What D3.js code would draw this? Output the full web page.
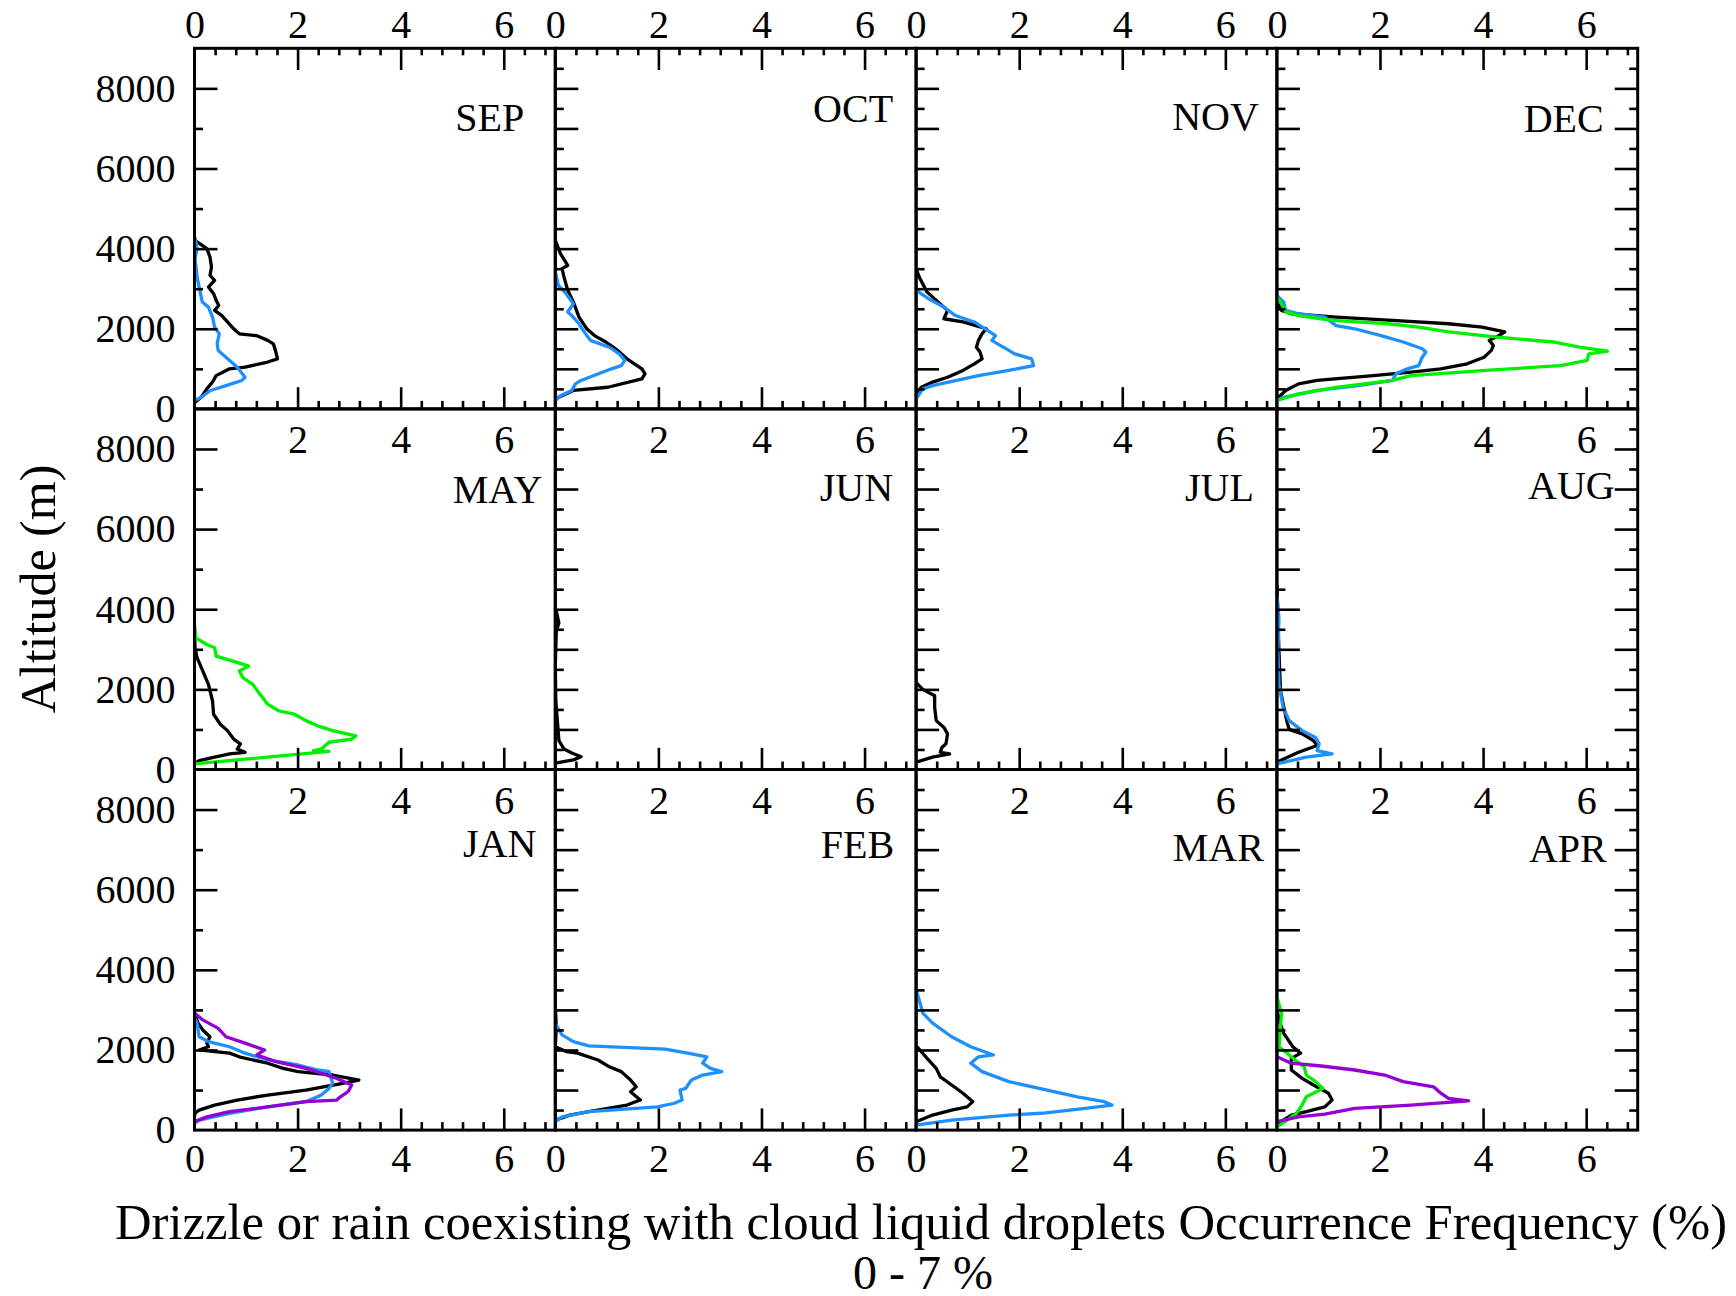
<!DOCTYPE html>
<html><head><meta charset="utf-8">
<script src="https://cdn.jsdelivr.net/npm/d3@7"></script>
<style>
body{margin:0;background:#fff}
svg{display:block}
text{font-family:"Liberation Serif","Times New Roman",serif;fill:#000}
</style>
</head><body>
<svg id="chart" width="1736" height="1296"></svg>
<script>
// ---- DATA: [frequency %, altitude m] ----
const SEP_black=[[0,4210],[0.24,4000],[0.30,3790],[0.33,3540],[0.30,3330],[0.39,3210],[0.27,3040],[0.37,2875],[0.42,2710],[0.47,2580],[0.39,2460],[0.53,2330],[0.64,2170],[0.76,2000],[0.87,1875],[1.2,1830],[1.42,1710],[1.53,1625],[1.57,1460],[1.61,1250],[1.42,1170],[0.98,1040],[0.68,1000],[0.42,830],[0.35,670],[0.24,500],[0.13,290],[0.01,170]];
const SEP_blue=[[0.01,4290],[0.05,4000],[0.01,3750],[0.03,3540],[0.05,3290],[0.09,3040],[0.15,2670],[0.27,2540],[0.35,2290],[0.39,2040],[0.48,1875],[0.44,1625],[0.46,1460],[0.61,1290],[0.83,1040],[0.98,790],[0.92,710],[0.61,580],[0.31,460],[0.13,290],[0,210]];
const OCT_black=[[0,4210],[0.1,3875],[0.24,3580],[0.13,3500],[0.17,3290],[0.24,2960],[0.35,2670],[0.46,2290],[0.61,2000],[0.76,1830],[0.98,1670],[1.17,1500],[1.39,1250],[1.68,1000],[1.74,875],[1.68,750],[1.02,540],[0.35,460],[0.13,330],[0.02,250]];
const OCT_blue=[[0,3420],[0.06,3080],[0.21,2875],[0.35,2625],[0.24,2420],[0.32,2330],[0.46,2125],[0.54,1960],[0.68,1710],[1.05,1540],[1.24,1375],[1.35,1210],[1.28,1080],[1.09,1000],[0.5,710],[0.39,625],[0.32,460],[0.1,330],[0,210]];
const NOV_black=[[0,3500],[0.06,3290],[0.21,2920],[0.5,2580],[0.61,2460],[0.54,2250],[0.91,2170],[1.36,2000],[1.28,1875],[1.21,1710],[1.17,1540],[1.24,1420],[1.28,1250],[1.13,1125],[0.91,960],[0.61,790],[0.32,670],[0.1,540],[0.04,420],[0,250]];
const NOV_blue=[[0,2960],[0.24,2750],[0.54,2540],[0.76,2330],[1.13,2170],[1.54,1830],[1.47,1710],[1.58,1625],[1.8,1460],[1.91,1375],[2.24,1250],[2.28,1080],[1.8,960],[1.21,830],[0.32,580],[0.13,500],[0,250]];
const DEC_black=[[0,2670],[0.09,2460],[0.28,2375],[1.15,2290],[2.24,2210],[3.33,2125],[3.98,2040],[4.42,1920],[4.31,1830],[4.12,1710],[4.2,1580],[4.16,1460],[4.02,1290],[3.69,1125],[3.18,1000],[2.6,920],[1.87,830],[0.78,710],[0.42,625],[0.17,460],[0,250]];
const DEC_green=[[0,2790],[0.09,2625],[0.17,2420],[0.42,2330],[1.07,2210],[2.16,2125],[2.75,2040],[3.33,1920],[4.27,1790],[5.36,1670],[5.87,1540],[6.41,1440],[6.05,1375],[6.02,1210],[5.5,1080],[4.05,960],[2.6,830],[2.24,710],[1.15,540],[0.42,375],[0,210]];
const DEC_blue=[[0,2830],[0.13,2670],[0.17,2460],[0.42,2375],[0.93,2290],[1.15,2080],[1.51,2000],[2.02,1830],[2.45,1670],[2.82,1500],[2.89,1420],[2.82,1290],[2.75,1080],[2.53,1000],[2.31,875],[2.24,710],[1.58,580],[0.78,460],[0.13,290],[0,210]];
const MAY_black=[[0,3610],[0.01,3040],[0.05,2790],[0.16,2460],[0.27,2125],[0.35,1710],[0.37,1380],[0.5,1130],[0.64,970],[0.76,760],[0.89,640],[0.83,510],[0.98,430],[0.68,390],[0.39,310],[0.09,220],[0,140]];
const MAY_green=[[0,3530],[0.03,3280],[0.24,3120],[0.39,3040],[0.42,2830],[0.76,2700],[1.05,2580],[0.87,2460],[0.94,2290],[1.13,2125],[1.27,1880],[1.42,1630],[1.64,1460],[1.94,1380],[2.16,1220],[2.39,1090],[2.68,970],[3.13,840],[3.05,760],[2.61,680],[2.46,510],[2.31,470],[2.61,450],[0,140]];
const JUN_black=[[0.02,3950],[0.07,3660],[0.02,3450],[0,2620],[0.01,1710],[0.04,1220],[0.07,720],[0.17,510],[0.32,410],[0.5,320],[0.35,240],[0,160]];
const JUL_black=[[0,2170],[0.13,2000],[0.36,1840],[0.36,1550],[0.39,1220],[0.54,1050],[0.61,890],[0.58,640],[0.5,550],[0.47,430],[0.65,390],[0.32,310],[0,180]];
const AUG_black=[[0,4600],[0.02,3780],[0.04,2950],[0.07,1960],[0.15,1460],[0.2,1170],[0.24,1000],[0.49,890],[0.71,720],[0.78,600],[0.42,430],[0.28,350],[0,180]];
const AUG_blue=[[0,4360],[0.04,3780],[0.02,2950],[0.04,2130],[0.12,1550],[0.24,1220],[0.49,970],[0.75,800],[0.82,640],[0.78,470],[1.07,390],[0.57,310],[0,140]];
const JAN_black=[[0,2920],[0.07,2670],[0.16,2500],[0.3,2330],[0.24,2170],[0.27,2080],[0.09,2000],[0.39,1960],[0.68,1920],[0.87,1830],[1.13,1750],[1.42,1670],[1.72,1540],[2.01,1460],[2.68,1375],[3.19,1250],[2.9,1170],[2.16,1000],[1.42,875],[0.83,750],[0.39,625],[0.09,500],[0.01,420],[0,330]];
const JAN_blue=[[0,2790],[0.05,2670],[0.09,2330],[0.27,2210],[0.68,2080],[0.98,1920],[1.42,1750],[2.01,1625],[2.39,1500],[2.61,1460],[2.68,1170],[2.61,1040],[2.46,875],[2.16,710],[1.42,580],[0.68,420],[0.09,250],[0,170]];
const JAN_purple=[[0,2920],[0.16,2750],[0.46,2540],[0.61,2330],[0.98,2170],[1.36,2000],[1.21,1875],[1.58,1710],[2.16,1540],[2.46,1420],[2.76,1290],[3.05,1125],[2.98,960],[2.83,830],[2.76,750],[2.16,710],[1.42,580],[0.68,460],[0.24,330],[0,210]];
const FEB_black=[[0,3080],[0.02,2580],[0,2080],[0.21,1960],[0.43,1920],[0.83,1750],[1.05,1580],[1.28,1460],[1.46,1250],[1.57,1080],[1.46,960],[1.65,750],[1.39,625],[0.65,460],[0.28,375],[0,250]];
const FEB_blue=[[0,2670],[0.13,2375],[0.35,2210],[0.65,2100],[2.13,2020],[2.57,1920],[2.94,1830],[2.86,1670],[3.01,1540],[3.23,1460],[2.86,1375],[2.64,1250],[2.53,1040],[2.42,1000],[2.46,750],[2.31,670],[1.98,580],[0.65,460],[0.13,330],[0,210]];
const MAR_black=[[0.02,2080],[0.24,1750],[0.39,1540],[0.47,1330],[0.69,1125],[0.91,920],[1.1,710],[0.99,580],[0.69,500],[0.32,375],[0,210]];
const MAR_blue=[[0,3500],[0.06,3250],[0.13,2920],[0.32,2670],[0.69,2330],[1.06,2080],[1.5,1875],[1.21,1830],[1.06,1670],[1.28,1460],[1.8,1210],[2.39,1040],[3.13,830],[3.65,710],[3.8,625],[3.28,540],[2.43,420],[1.8,375],[0.69,250],[0,125]];
const APR_black=[[0,3000],[0.06,2670],[0.13,2420],[0.31,2080],[0.46,1920],[0.28,1790],[0.28,1500],[0.49,1290],[0.71,1125],[1.0,920],[1.07,750],[0.93,580],[0.57,460],[0.28,375],[0.02,170]];
const APR_green=[[0,3330],[0.09,2920],[0.06,2420],[0.04,2080],[0.2,1920],[0.35,1750],[0.53,1580],[0.57,1375],[0.75,1210],[0.89,1040],[0.71,920],[0.57,830],[0.49,625],[0.38,420],[0.2,250],[0,80]];
const APR_purple=[[0,1830],[0.28,1670],[0.86,1600],[1.51,1500],[2.09,1375],[2.45,1210],[3.04,1080],[3.18,920],[3.33,790],[3.72,730],[2.6,625],[1.51,540],[0.93,400],[0.42,330],[0,210]];

const months=["SEP","OCT","NOV","DEC","MAY","JUN","JUL","AUG","JAN","FEB","MAR","APR"];
const seriesNames=["black","blue","green","purple"];
const seriesColors=["#000000","#1e8fff","#00f000","#9400d3"];
const xTickLabels=[0,2,4,6];
const xInnerLabels=[2,4,6];
const yTickLabels=[0,2000,4000,6000,8000];
const xDomain=[0,7];
const yDomain=[0,9000];
const titleText="Drizzle or rain coexisting with cloud liquid droplets Occurrence Frequency (%)";
const subtitleText="0 - 7 %";
const yTitleText="Altitude (m)";

const profiles={
  SEP:{black:SEP_black,blue:SEP_blue},
  OCT:{black:OCT_black,blue:OCT_blue},
  NOV:{black:NOV_black,blue:NOV_blue},
  DEC:{black:DEC_black,green:DEC_green,blue:DEC_blue},
  MAY:{black:MAY_black,green:MAY_green},
  JUN:{black:JUN_black},
  JUL:{black:JUL_black},
  AUG:{black:AUG_black,blue:AUG_blue},
  JAN:{black:JAN_black,blue:JAN_blue,purple:JAN_purple},
  FEB:{black:FEB_black,blue:FEB_blue},
  MAR:{black:MAR_black,blue:MAR_blue},
  APR:{black:APR_black,green:APR_green,purple:APR_purple}
};

// ---- LAYOUT ----
const L=194.5, T=48.3, W=360.8, H=360.6;
// month label: [distance from right edge, distance of centre from top]
const monthLabelPos={SEP:[31,69],OCT:[23,60],NOV:[18,68],DEC:[34,70],MAY:[13,80],JUN:[23,78],JUL:[23,78],AUG:[23,76],JAN:[19,73],FEB:[22,74],MAR:[13,77],APR:[31,78]};

const svg=d3.select("#chart");
const color=d3.scaleOrdinal(seriesNames,seriesColors);
const x=d3.scaleLinear(xDomain,[0,W]);
const y=d3.scaleLinear(yDomain,[H,0]);
const line=d3.line().x(d=>x(d[0])).y(d=>y(d[1]));

const defs=svg.append("defs");
defs.append("clipPath").attr("id","pclip").append("rect").attr("x",0).attr("y",0).attr("width",W).attr("height",H);

const xMinor=d3.range(0.4,7,0.4).filter(v=>Math.abs(v/2-Math.round(v/2))>1e-6);

function styleAxis(g,w){
  g.select(".domain").remove();
  g.selectAll(".tick line").attr("stroke","#000").attr("stroke-width",w);
  g.selectAll("text").style("font-family",'"Liberation Serif","Times New Roman",serif').style("font-size","40px").attr("fill","#000");
}

months.forEach((m,i)=>{
  const col=i%4, row=Math.floor(i/4);
  const g=svg.append("g").attr("transform",`translate(${L+col*W},${T+row*H})`);

  // lines
  const lg=g.append("g").attr("clip-path","url(#pclip)");
  seriesNames.forEach(s=>{
    const d=profiles[m][s];
    if(!d) return;
    lg.append("path").datum(d).attr("d",line).attr("fill","none")
      .attr("stroke",color(s)).attr("stroke-width",3.3).attr("stroke-linejoin","round");
  });

  // left axis ticks (inward)
  const yMajorStep = col===0?2000:1000, yMinorStep = col===0?1000:500;
  const yMaj=d3.range(yMajorStep,9000,yMajorStep);
  const yMin=d3.range(yMinorStep,9000,yMinorStep).filter(v=>v%yMajorStep!==0);
  g.append("g").call(d3.axisLeft(y).tickValues(yMaj).tickSizeInner(-23).tickSizeOuter(0).tickFormat(""))
    .call(a=>styleAxis(a,2.6));
  g.append("g").call(d3.axisLeft(y).tickValues(yMin).tickSizeInner(-8.5).tickSizeOuter(0).tickFormat(""))
    .call(a=>styleAxis(a,2.6));
  if(col===0){
    g.append("g").call(d3.axisLeft(y).tickValues(yTickLabels).tickSize(0).tickPadding(19).tickFormat(d3.format("d")))
      .call(a=>styleAxis(a,0));
  }
  if(col===3){
    g.append("g").attr("transform",`translate(${W},0)`)
      .call(d3.axisRight(y).tickValues(yMaj).tickSizeInner(-23).tickSizeOuter(0).tickFormat("")).call(a=>styleAxis(a,2.6));
    g.append("g").attr("transform",`translate(${W},0)`)
      .call(d3.axisRight(y).tickValues(yMin).tickSizeInner(-8.5).tickSizeOuter(0).tickFormat("")).call(a=>styleAxis(a,2.6));
  }

  // bottom axis ticks (upward)
  g.append("g").attr("transform",`translate(0,${H})`)
    .call(d3.axisBottom(x).tickValues([2,4,6]).tickSizeInner(-21.7).tickSizeOuter(0).tickFormat("")).call(a=>styleAxis(a,2.6));
  g.append("g").attr("transform",`translate(0,${H})`)
    .call(d3.axisBottom(x).tickValues(xMinor).tickSizeInner(-8).tickSizeOuter(0).tickFormat("")).call(a=>styleAxis(a,2.6));
  if(row===2){
    g.append("g").attr("transform",`translate(0,${H})`)
      .call(d3.axisBottom(x).tickValues(xTickLabels).tickSize(0).tickPadding(14).tickFormat(d3.format("d"))).call(a=>styleAxis(a,0));
  }
  if(row===0){
    g.append("g").call(d3.axisTop(x).tickValues([2,4,6]).tickSizeInner(-21.7).tickSizeOuter(0).tickFormat("")).call(a=>styleAxis(a,2.6));
    g.append("g").call(d3.axisTop(x).tickValues(xMinor).tickSizeInner(-7).tickSizeOuter(0).tickFormat("")).call(a=>styleAxis(a,2.6));
    g.append("g").call(d3.axisTop(x).tickValues(xTickLabels).tickSize(0).tickPadding(10).tickFormat(d3.format("d"))).call(a=>styleAxis(a,0));
  } else {
    g.append("g").call(d3.axisBottom(x).tickValues(xInnerLabels).tickSize(0).tickPadding(16).tickFormat(d3.format("d"))).call(a=>styleAxis(a,0));
  }

  // frame
  g.append("rect").attr("x",0).attr("y",0).attr("width",W).attr("height",H)
    .attr("fill","none").attr("stroke","#000").attr("stroke-width",3);

  // month label
  const p=monthLabelPos[m];
  g.append("text").attr("x",W-p[0]).attr("y",p[1]).attr("dy","0.35em")
    .attr("text-anchor","end").style("font-size","40px").text(m);
});

// titles
const t1=svg.append("text").attr("x",921).attr("y",1221).attr("dy","0.35em").attr("text-anchor","middle")
  .style("font-size","50px").text(titleText);
const w1=t1.node().getComputedTextLength();
if(w1>0) t1.style("font-size",(50*1612/w1).toFixed(2)+"px");
svg.append("text").attr("x",923).attr("y",1272).attr("dy","0.35em").attr("text-anchor","middle")
  .style("font-size","48px").text(subtitleText);
svg.append("text").attr("transform","translate(37,589) rotate(-90)").attr("dy","0.35em").attr("text-anchor","middle")
  .style("font-size","50px").text(yTitleText);
</script>
</body></html>
